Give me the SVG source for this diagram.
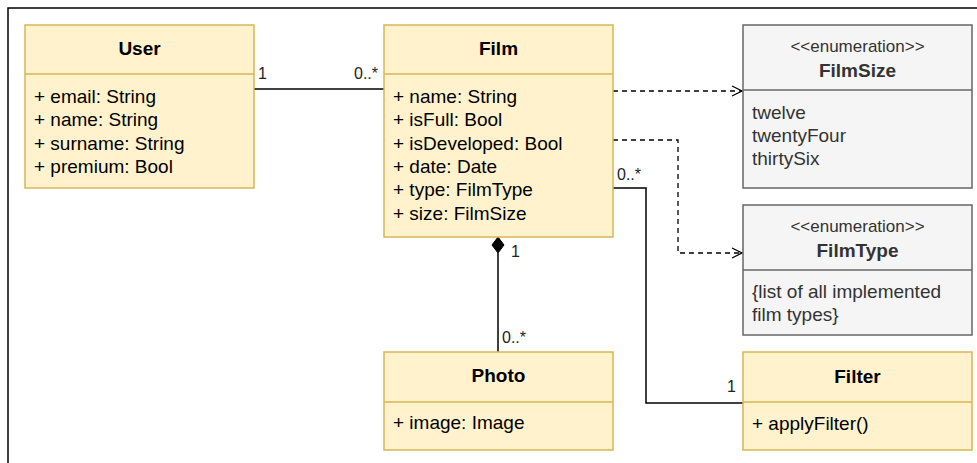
<svg xmlns="http://www.w3.org/2000/svg" width="977" height="463" viewBox="0 0 977 463">
<style>
text{font-family:"Liberation Sans",Arial,Helvetica,sans-serif;}
.cls{fill:#fff2cc;stroke:#d6b656;stroke-width:1.5;}
.enm{fill:#f5f5f5;stroke:#666666;stroke-width:1.5;}
.t{font-size:19px;font-weight:bold;fill:#000;text-anchor:middle;}
.et{font-size:19px;font-weight:bold;fill:#333;text-anchor:middle;}
.st{font-size:17px;fill:#333;text-anchor:middle;}
.a{font-size:19px;fill:#000;}
.ea{font-size:19px;fill:#333;}
.lbl{font-size:16px;fill:#222;}
.solid{fill:none;stroke:#000;stroke-width:1.5;}
.dash{fill:none;stroke:#000;stroke-width:1.3;stroke-dasharray:5 4;}
</style>
<defs>
<marker id="open" viewBox="0 0 12 12" refX="11" refY="6" markerWidth="12" markerHeight="12" markerUnits="userSpaceOnUse" orient="auto">
<path d="M1,1 L11,6 L1,11" fill="none" stroke="#000" stroke-width="1.3"/>
</marker>
</defs>
<rect width="977" height="463" fill="#fff"/>
<path d="M8,463 L8,8 L977,8" fill="none" stroke="#000" stroke-width="1.5"/>

<g id="connectors">
<path class="solid" d="M254,89 L384,89" stroke="#444"/>
<text class="lbl" x="258" y="79">1</text>
<text class="lbl" x="354" y="79">0..*</text>
<path class="dash" d="M613,91 L742,91" marker-end="url(#open)"/>
<path class="dash" d="M613,140 L678,140 L678,253 L742,253" marker-end="url(#open)"/>
<path class="solid" d="M613,188 L646,188 L646,403 L743,403"/>
<text class="lbl" x="617" y="180">0..*</text>
<text class="lbl" x="727" y="392">1</text>
<path class="solid" d="M498,253 L498,352"/>
<path d="M498,237 L504,245 L498,253 L492,245 Z" fill="#000" stroke="#000" stroke-width="1"/>
<text class="lbl" x="511" y="257">1</text>
<text class="lbl" x="502" y="343">0..*</text>
</g>

<g id="user">
<rect class="cls" x="25" y="25" width="229" height="163"/>
<line class="cls" x1="25" y1="74" x2="254" y2="74"/>
<text class="t" x="139.5" y="55">User</text>
<text class="a" x="34" y="103">+ email: String</text>
<text class="a" x="34" y="126">+ name: String</text>
<text class="a" x="34" y="150">+ surname: String</text>
<text class="a" x="34" y="173">+ premium: Bool</text>
</g>

<g id="film">
<rect class="cls" x="384" y="25" width="229" height="212"/>
<line class="cls" x1="384" y1="74" x2="613" y2="74"/>
<text class="t" x="498.5" y="55">Film</text>
<text class="a" x="393" y="103">+ name: String</text>
<text class="a" x="393" y="126">+ isFull: Bool</text>
<text class="a" x="393" y="150">+ isDeveloped: Bool</text>
<text class="a" x="393" y="173">+ date: Date</text>
<text class="a" x="393" y="196">+ type: FilmType</text>
<text class="a" x="393" y="220">+ size: FilmSize</text>
</g>

<g id="filmsize">
<rect class="enm" x="743" y="25" width="229" height="163"/>
<line class="enm" x1="743" y1="90" x2="972" y2="90"/>
<text class="st" x="857.5" y="52">&lt;&lt;enumeration&gt;&gt;</text>
<text class="et" x="857.5" y="77">FilmSize</text>
<text class="ea" x="752" y="119">twelve</text>
<text class="ea" x="752" y="142">twentyFour</text>
<text class="ea" x="752" y="165">thirtySix</text>
</g>

<g id="filmtype">
<rect class="enm" x="743" y="205" width="229" height="130"/>
<line class="enm" x1="743" y1="270" x2="972" y2="270"/>
<text class="st" x="857.5" y="232">&lt;&lt;enumeration&gt;&gt;</text>
<text class="et" x="857.5" y="257">FilmType</text>
<text class="ea" x="752" y="298">{list of all implemented</text>
<text class="ea" x="752" y="321">film types}</text>
</g>

<g id="photo">
<rect class="cls" x="384" y="352" width="229" height="98"/>
<line class="cls" x1="384" y1="402" x2="613" y2="402"/>
<text class="t" x="498.5" y="382">Photo</text>
<text class="a" x="393" y="429">+ image: Image</text>
</g>

<g id="filter">
<rect class="cls" x="743" y="352" width="229" height="98"/>
<line class="cls" x1="743" y1="402" x2="972" y2="402"/>
<text class="t" x="857.5" y="383">Filter</text>
<text class="a" x="752" y="430">+ applyFilter()</text>
</g>
</svg>
